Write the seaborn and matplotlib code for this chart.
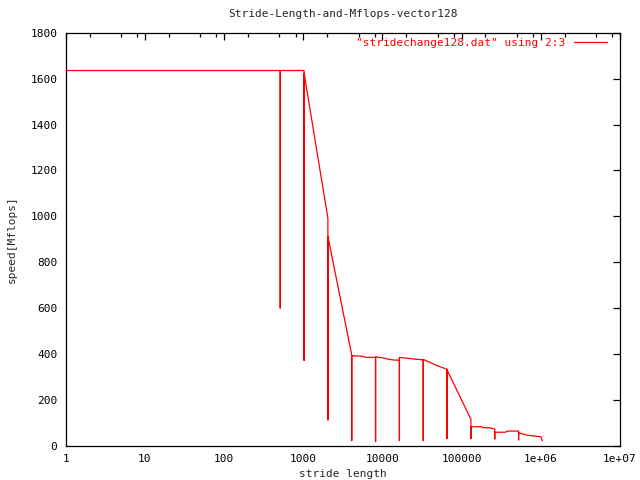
import numpy as np
import pandas as pd
import matplotlib
matplotlib.use("Agg")
import matplotlib.pyplot as plt
import seaborn as sns
from matplotlib.ticker import LogLocator, NullFormatter

# stride length (column 2) and speed in Mflops (column 3)
stride = [1, 2, 4, 8, 16, 32, 64, 128, 256, 511, 512, 513,
          1023, 1024, 1025, 2047, 2048, 2049, 4095, 4096, 4097,
          5632, 6144, 8191, 8192, 8193, 10240, 12288, 14336, 16383,
          16384, 16385, 24576, 32767, 32768, 32769, 49152, 65535,
          65536, 65537, 131071, 131072, 131073, 180000, 185000,
          230000, 262143, 262144, 262145, 360000, 375000, 524287,
          524288, 524289, 655360, 1000000, 1048576]
mflops = [1635, 1635, 1635, 1635, 1635, 1635, 1635, 1635, 1635, 1635, 600, 1635,
          1635, 372, 1623, 992, 113, 912, 396, 23, 393,
          391, 386, 386, 19, 389, 383, 377, 374, 374,
          23, 386, 379, 375, 23, 377, 350, 334,
          32, 331, 116, 32, 84, 84, 80,
          79, 74, 30, 60, 60, 65, 65,
          26, 58, 48, 40, 23]

xtick_vals = [1, 10, 100, 1000, 10000, 100000, 1e6, 1e7]
xtick_labels = ["1", "10", "100", "1000", "10000", "100000", "1e+06", "1e+07"]
ytick_vals = [0, 200, 400, 600, 800, 1000, 1200, 1400, 1600, 1800]

df = pd.DataFrame({"stride": stride, "mflops": mflops})

sns.set_style("white")
plt.rcParams["font.family"] = ["DejaVu Sans Mono"]
plt.rcParams["font.size"] = 8

fig = plt.figure(figsize=(6.4, 4.8), dpi=100)
ax = fig.add_axes([0.1027, 0.0708, 0.866, 0.8612])

sns.lineplot(data=df, x="stride", y="mflops", ax=ax, color="red", linewidth=0.9,
             estimator=None, sort=False, label='"stridechange128.dat" using 2:3')

ax.set_xscale("log")
ax.set_xlim(1, 1e7)
ax.set_ylim(0, 1800)
ax.set_xticks(xtick_vals)
ax.set_xticklabels(xtick_labels)
ax.xaxis.set_minor_locator(LogLocator(base=10, subs=(2, 5, 8)))
ax.xaxis.set_minor_formatter(NullFormatter())
ax.set_yticks(ytick_vals)
ax.set_yticklabels([str(v) for v in ytick_vals])

ax.tick_params(which="both", direction="in", top=True, right=True,
               colors="black", labelsize=8, pad=6)
ax.tick_params(which="major", length=5, width=0.9)
ax.tick_params(which="minor", length=3, width=0.9)
for s in ax.spines.values():
    s.set_color("black")
    s.set_linewidth(0.9)

ax.set_title("Stride-Length-and-Mflops-vector128", fontsize=8, pad=11)
ax.set_xlabel("stride length", fontsize=8, labelpad=3)
ax.set_ylabel("speed[Mflops]", fontsize=8, labelpad=10)

leg = ax.legend(loc="upper right", bbox_to_anchor=(0.985, 0.997),
                frameon=False, markerfirst=False, labelcolor="red",
                fontsize=8, handlelength=3, borderaxespad=0)

fig.savefig("out.png", dpi=100)
